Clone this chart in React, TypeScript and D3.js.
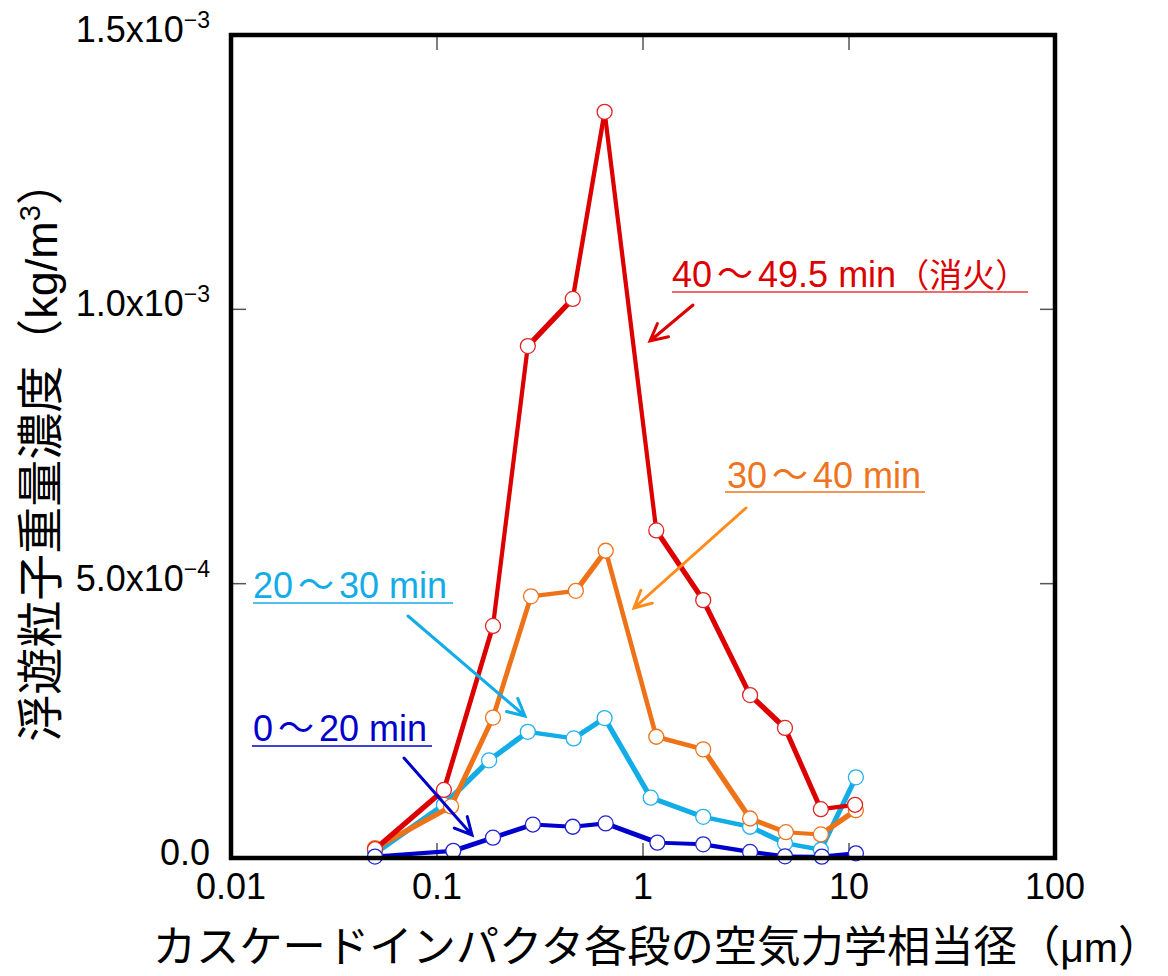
import React from "react";
import * as d3 from "d3";

// Particle size (aerodynamic diameter, µm) and mass concentration (kg/m³) for each sampling period
const redX = [0.05, 0.108, 0.187, 0.276, 0.456, 0.651, 1.16, 1.96, 3.31, 4.89, 7.3, 10.7];
const redY = [1.6e-5, 1.24e-4, 4.23e-4, 9.33e-4, 1.019e-3, 1.36e-3, 5.97e-4, 4.7e-4, 2.97e-4, 2.37e-4, 8.9e-5, 9.7e-5];

const orangeX = [0.05, 0.117, 0.187, 0.286, 0.472, 0.659, 1.16, 1.96, 3.31, 4.94, 7.3, 10.8];
const orangeY = [1.8e-5, 9.4e-5, 2.56e-4, 4.77e-4, 4.87e-4, 5.6e-4, 2.21e-4, 1.98e-4, 7.2e-5, 4.7e-5, 4.3e-5, 8.7e-5];

const cyanX = [0.05, 0.108, 0.179, 0.276, 0.461, 0.651, 1.09, 1.96, 3.31, 4.89, 7.3, 10.8];
const cyanY = [8.6e-6, 9.7e-5, 1.78e-4, 2.3e-4, 2.18e-4, 2.55e-4, 1.1e-4, 7.5e-5, 5.7e-5, 2.7e-5, 1.5e-5, 1.47e-4];

const blueX = [0.05, 0.12, 0.187, 0.292, 0.456, 0.659, 1.175, 1.96, 3.31, 4.89, 7.38, 10.8];
const blueY = [2.6e-6, 1.3e-5, 3.7e-5, 6.1e-5, 5.7e-5, 6.3e-5, 2.8e-5, 2.5e-5, 1.1e-5, 3e-6, 2.5e-6, 8.6e-6];

const seriesNames = ["0〜20 min", "20〜30 min", "30〜40 min", "40〜49.5 min（消火）"];

// Axis ticks
const xTickValues = [0.01, 0.1, 1, 10, 100];
const xTickLabels = ["0.01", "0.1", "1", "10", "100"];
const yTickValues = [0, 0.0005, 0.001, 0.0015];
const yTickMantissa = ["0.0", "5.0x10", "1.0x10", "1.5x10"];
const yTickExponent = ["", "−4", "−3", "−3"];

const xTitle = "カスケードインパクタ各段の空気力学相当径";
const yTitle = "浮遊粒子重量濃度";

const LATIN = "'Liberation Sans', Arial, sans-serif";
const CJK = "'Noto Sans CJK JP', 'Noto Sans CJK SC', sans-serif";

const W = 1168;
const H = 976;
const left = 231;
const right = 1055;
const top = 35;
const bottom = 858;

const isCJK = (c: string) => /[\u3000-\u9fff\uff00-\uffef]/.test(c);

// Split a label into Latin / CJK runs so each part uses a suitable font
function runs(s: string) {
  const out: { t: string; cjk: boolean }[] = [];
  for (const ch of s) {
    const c = isCJK(ch);
    if (out.length && out[out.length - 1].cjk === c && ch !== "〜" && out[out.length - 1].t !== "〜")
      out[out.length - 1].t += ch;
    else out.push({ t: ch, cjk: c });
  }
  return out;
}

function Label({ text, x, y, color, size, cjkSize }: any) {
  const parts = runs(text);
  return (
    <text x={x} y={y} fill={color} fontSize={size} fontFamily={LATIN}>
      {parts.map((p, i) => {
        if (p.t === "〜")
          return (
            <tspan key={i} fontFamily={CJK} dx={5}>
              {p.t}
            </tspan>
          );
        const prevTilde = i > 0 && parts[i - 1].t === "〜";
        return (
          <tspan
            key={i}
            fontFamily={p.cjk ? CJK : LATIN}
            fontSize={p.cjk ? cjkSize : size}
            dx={prevTilde ? 5 : 0}
          >
            {p.t}
          </tspan>
        );
      })}
    </text>
  );
}

function Arrow({ x1, y1, x2, y2, color, head = 19, spread = 27, width = 3 }: any) {
  const a = Math.atan2(y2 - y1, x2 - x1);
  const s = (spread * Math.PI) / 180;
  const p1 = [x2 - head * Math.cos(a - s), y2 - head * Math.sin(a - s)];
  const p2 = [x2 - head * Math.cos(a + s), y2 - head * Math.sin(a + s)];
  return (
    <path
      d={`M${x1},${y1}L${x2},${y2}M${p1[0]},${p1[1]}L${x2},${y2}L${p2[0]},${p2[1]}`}
      stroke={color}
      strokeWidth={width}
      fill="none"
      strokeLinecap="round"
      strokeLinejoin="miter"
    />
  );
}

export default function App() {
  const x = d3.scaleLog().domain([0.01, 100]).range([left, right]);
  const y = d3.scaleLinear().domain([0, 0.0015]).range([bottom, top]);

  const series = [
    { xs: cyanX, ys: cyanY, line: "#12ADE6", marker: "#22B2EA" },
    { xs: orangeX, ys: orangeY, line: "#EE7218", marker: "#EE7420" },
    { xs: redX, ys: redY, line: "#DD0000", marker: "#E02424" },
    { xs: blueX, ys: blueY, line: "#0000CC", marker: "#2222D0" },
  ];

  const innerX = xTickValues.filter((v) => v > 0.01 && v < 100);
  const innerY = yTickValues.filter((v) => v > 0 && v < 0.0015);
  const tickLen = 15;
  const pen = 3.8; // square pen: diagonal strokes come out wider

  return (
    <svg
      width={W}
      height={H}
      viewBox={`0 0 ${W} ${H}`}
      style={{ position: "absolute", left: 0, top: 0, background: "#fff" }}
    >
      <rect x={0} y={0} width={W} height={H} fill="#fff" />

      {/* inner ticks */}
      <g stroke="#555" strokeWidth={1.5}>
        {innerX.map((v) => (
          <g key={v}>
            <line x1={x(v)} x2={x(v)} y1={bottom} y2={bottom - tickLen} />
            <line x1={x(v)} x2={x(v)} y1={top} y2={top + tickLen} />
          </g>
        ))}
        {innerY.map((v) => (
          <g key={v}>
            <line x1={left} x2={left + tickLen} y1={y(v)} y2={y(v)} />
            <line x1={right} x2={right - tickLen} y1={y(v)} y2={y(v)} />
          </g>
        ))}
      </g>

      {/* data series */}
      {series.map((s, i) => {
        const pts = s.xs.map((v, j) => [x(v), y(s.ys[j])] as [number, number]);
        const segs = d3.pairs(pts);
        return (
          <g key={i}>
            {segs.map(([a, b], j) => {
              const ang = Math.atan2(b[1] - a[1], b[0] - a[0]);
              const w = pen * (Math.abs(Math.cos(ang)) + Math.abs(Math.sin(ang)));
              return (
                <line
                  key={j}
                  x1={a[0]}
                  y1={a[1]}
                  x2={b[0]}
                  y2={b[1]}
                  stroke={s.line}
                  strokeWidth={w}
                  strokeLinecap="round"
                />
              );
            })}
            {pts.map((p, j) => (
              <circle key={j} cx={p[0]} cy={p[1]} r={7.5} fill="#fff" stroke={s.marker} strokeWidth={1.3} />
            ))}
          </g>
        );
      })}

      {/* frame */}
      <rect x={left} y={top} width={right - left} height={bottom - top} fill="none" stroke="#000" strokeWidth={4.5} />

      {/* x tick labels */}
      {xTickValues.map((v, i) => (
        <text key={v} x={x(v)} y={899} textAnchor="middle" fontFamily={LATIN} fontSize={36} fill="#000">
          {xTickLabels[i]}
        </text>
      ))}

      {/* y tick labels */}
      {yTickValues.map((v, i) => (
        <text key={v} x={210} y={y(v) + 7} textAnchor="end" fontFamily={LATIN} fontSize={36} fill="#000">
          {yTickMantissa[i]}
          {yTickExponent[i] && (
            <tspan fontSize={23} dy={-14}>
              {yTickExponent[i]}
            </tspan>
          )}
        </text>
      ))}

      {/* axis titles */}
      <text x={657} y={962} textAnchor="middle" fontSize={43.3} fill="#000" fontFamily={CJK}>
        {xTitle}
        <tspan>（</tspan>
        <tspan fontFamily={LATIN} fontSize={41}>μm</tspan>
        <tspan>）</tspan>
      </text>
      <text
        transform="translate(57,450) rotate(-90)"
        textAnchor="middle"
        fontSize={47}
        fill="#000"
        fontFamily={CJK}
      >
        {yTitle}（
        <tspan fontFamily={LATIN} fontSize={45}>kg/m</tspan>
        <tspan fontFamily={LATIN} fontSize={29} dy={-17}>3</tspan>
        <tspan dy={17}>）</tspan>
      </text>

      {/* annotations */}
      <Label text={seriesNames[3]} x={672} y={287} color="#DD0000" size={36} cjkSize={33} />
      <line x1={672} x2={1028} y1={292} y2={292} stroke="#E63A3A" strokeWidth={1.6} />
      <Arrow x1={693} y1={305} x2={650} y2={341} color="#DD0000" />

      <Label text={seriesNames[2]} x={727} y={488} color="#EE7420" size={36} cjkSize={33} />
      <line x1={725} x2={925} y1={492} y2={492} stroke="#EE7420" strokeWidth={1.6} />
      <Arrow x1={746} y1={508} x2={634} y2={608} color="#FF8C1A" />

      <Label text={seriesNames[1]} x={253} y={598} color="#12ADE6" size={36} cjkSize={33} />
      <line x1={253} x2={453} y1={603} y2={603} stroke="#12ADE6" strokeWidth={1.6} />
      <Arrow x1={408} y1={616} x2={525} y2={716} color="#12ADE6" />

      <Label text={seriesNames[0]} x={253} y={741} color="#0000CC" size={36} cjkSize={33} />
      <line x1={252} x2={432} y1={746} y2={746} stroke="#0000CC" strokeWidth={1.6} />
      <Arrow x1={404} y1={758} x2={472} y2={835} color="#0000CC" />
    </svg>
  );
}
